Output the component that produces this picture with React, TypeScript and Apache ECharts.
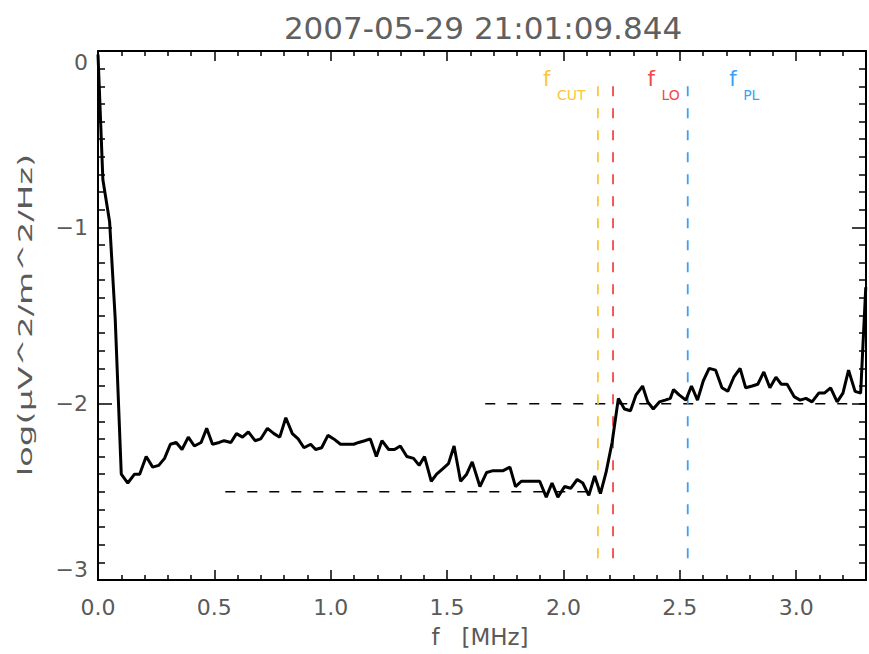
import React, { useEffect, useRef } from "react";
import * as echarts from "echarts";

// Spectrum sample frequencies [MHz]
const specFreq = [
  0.0, 0.021, 0.05, 0.074, 0.1, 0.128, 0.157, 0.179, 0.207, 0.235, 0.261, 0.286,
  0.311, 0.336, 0.361, 0.388, 0.414, 0.443, 0.467, 0.492, 0.521, 0.542, 0.571,
  0.595, 0.621, 0.646, 0.675, 0.699, 0.728, 0.756, 0.781, 0.807, 0.835, 0.86,
  0.885, 0.914, 0.935, 0.961, 0.988, 1.013, 1.042, 1.07, 1.099, 1.12, 1.146,
  1.17, 1.196, 1.22, 1.249, 1.274, 1.299, 1.327, 1.356, 1.38, 1.403, 1.432,
  1.455, 1.481, 1.506, 1.53, 1.558, 1.584, 1.608, 1.641, 1.67, 1.698, 1.72,
  1.741, 1.77, 1.794, 1.819, 1.848, 1.877, 1.898, 1.926, 1.951, 1.976, 2.005,
  2.031, 2.059, 2.083, 2.109, 2.134, 2.159, 2.183, 2.209, 2.236, 2.262, 2.288,
  2.312, 2.34, 2.362, 2.386, 2.412, 2.437, 2.459, 2.473, 2.497, 2.526, 2.55,
  2.576, 2.601, 2.626, 2.654, 2.681, 2.706, 2.732, 2.759, 2.783, 2.811, 2.835,
  2.861, 2.887, 2.913, 2.936, 2.961, 2.991, 3.017, 3.042, 3.068, 3.097, 3.121,
  3.148, 3.176, 3.201, 3.225, 3.253, 3.277, 3.299,
];

// Spectral density, log(µV^2/m^2/Hz)
const specLog = [
  -0.02, -0.73, -0.97, -1.52, -2.4, -2.45, -2.4, -2.4, -2.3, -2.36, -2.35, -2.31,
  -2.23, -2.22, -2.26, -2.19, -2.24, -2.22, -2.14, -2.23, -2.22, -2.21, -2.22,
  -2.17, -2.19, -2.16, -2.21, -2.2, -2.14, -2.17, -2.19, -2.08, -2.17, -2.2,
  -2.25, -2.23, -2.26, -2.25, -2.18, -2.2, -2.23, -2.23, -2.23, -2.22, -2.21,
  -2.2, -2.3, -2.21, -2.26, -2.26, -2.24, -2.3, -2.31, -2.35, -2.3, -2.44,
  -2.4, -2.37, -2.34, -2.24, -2.44, -2.4, -2.33, -2.47, -2.39, -2.38, -2.38,
  -2.38, -2.36, -2.47, -2.44, -2.44, -2.44, -2.44, -2.53, -2.45, -2.53, -2.47,
  -2.48, -2.43, -2.45, -2.52, -2.41, -2.51, -2.39, -2.22, -1.97, -2.03, -2.04,
  -1.95, -1.9, -1.99, -2.03, -1.99, -1.98, -1.97, -1.92, -1.95, -1.98, -1.9,
  -1.98, -1.87, -1.8, -1.81, -1.91, -1.93, -1.85, -1.8, -1.91, -1.9, -1.89,
  -1.82, -1.91, -1.85, -1.89, -1.89, -1.96, -1.98, -1.97, -1.99, -1.94, -1.94,
  -1.91, -1.99, -1.94, -1.81, -1.93, -1.94, -1.34,
];

// Characteristic frequencies [MHz]
const markerNames = ["CUT", "LO", "PL"];
const markerFreq = [2.148, 2.213, 2.534];
const markerColors = ["#fbc63c", "#f24848", "#3e9ff2"];
const markerLabelFreq = [1.912, 2.361, 2.712];
const markerRange = [-0.2, -2.9];

// Reference levels drawn as dashed lines
const levelValues = [-2.5, -2.0];
const levelStart = [0.547, 1.664];
const levelEnd = [2.155, 3.3];

const titleText = "2007-05-29 21:01:09.844";
const xName = "f   [MHz]";
const yName = "log(\u03bcV^2/m^2/Hz)";

const FONT = "DejaVu Sans";
const GREY = "#5a5a5a";

export default function App() {
  const ref = useRef<HTMLDivElement | null>(null);

  useEffect(() => {
    if (!ref.current) return;
    const chart = echarts.init(ref.current, undefined, { renderer: "svg" });

    const xFmt = (v: number) =>
      Math.abs(v * 2 - Math.round(v * 2)) < 1e-6 ? v.toFixed(1) : "";
    const yFmt = (v: number) => (v === 0 ? "0" : "\u2212" + Math.abs(v));

    const xCommon = {
      type: "value",
      min: 0,
      max: 3.3,
      interval: 0.5,
      axisLine: { onZero: false, lineStyle: { color: "#000", width: 2 } },
      axisTick: { inside: true, length: 10, lineStyle: { color: "#000", width: 1.5 } },
      minorTick: { show: true, splitNumber: 5, length: 5, lineStyle: { color: "#000", width: 1.5 } },
      splitLine: { show: false },
    };
    const yCommon = {
      type: "value",
      min: -3,
      max: 0,
      interval: 1,
      axisLine: { onZero: false, lineStyle: { color: "#000", width: 2 } },
      axisTick: { inside: true, length: 14, lineStyle: { color: "#000", width: 1.5 } },
      minorTick: { show: true, splitNumber: 10, length: 7, lineStyle: { color: "#000", width: 1.5 } },
      splitLine: { show: false },
    };

    const series: any[] = [];
    levelValues.forEach((lv, i) => {
      series.push({
        type: "line",
        data: [
          [levelStart[i], lv],
          [levelEnd[i], lv],
        ],
        symbol: "none",
        silent: true,
        lineStyle: { color: "#000", width: 1.5, type: [10, 12] },
        z: 3,
      });
    });
    markerFreq.forEach((f, i) => {
      series.push({
        type: "line",
        data: [
          [f, markerRange[0]],
          [f, markerRange[1]],
        ],
        symbol: "none",
        silent: true,
        lineStyle: { color: markerColors[i], width: 1.8, type: [10, 12] },
        z: 3,
      });
    });
    series.push({
      type: "line",
      data: specFreq.map((f, i) => [f, specLog[i]]),
      symbol: "none",
      lineStyle: { color: "#000", width: 3 },
      z: 5,
    });

    chart.setOption({
      animation: false,
      backgroundColor: "#fff",
      grid: { left: 98, top: 51, width: 770, height: 529, containLabel: false },
      xAxis: [
        {
          ...xCommon,
          position: "bottom",
          axisLabel: {
            formatter: xFmt,
            color: GREY,
            fontFamily: FONT,
            fontSize: 22,
            margin: 16,
          },
        },
        { ...xCommon, position: "top", axisLabel: { show: false } },
      ],
      yAxis: [
        {
          ...yCommon,
          position: "left",
          axisLabel: {
            formatter: yFmt,
            color: GREY,
            fontFamily: FONT,
            fontSize: 22,
            margin: 10,
            verticalAlignMinLabel: "bottom",
            verticalAlignMaxLabel: "top",
          },
        },
        { ...yCommon, position: "right", axisLabel: { show: false } },
      ],
      series,
    });

    // Texts: title, axis names and marker labels
    const px = (f: number, v: number) =>
      chart.convertToPixel({ xAxisIndex: 0, yAxisIndex: 0 }, [f, v]) as number[];
    const graphics: any[] = [
      {
        type: "text",
        x: 483,
        y: 28,
        style: {
          text: titleText,
          fill: "#606060",
          font: `31px "${FONT}"`,
          align: "center",
          verticalAlign: "middle",
        },
      },
      {
        type: "text",
        x: 480,
        y: 637,
        style: {
          text: xName,
          fill: GREY,
          font: `23px "${FONT}"`,
          align: "center",
          verticalAlign: "middle",
        },
      },
      {
        type: "text",
        x: 25,
        y: 315,
        rotation: Math.PI / 2,
        scaleX: 1.7,
        style: {
          text: yName,
          fill: GREY,
          font: `20px "${FONT}"`,
          align: "center",
          verticalAlign: "middle",
        },
      },
    ];
    markerNames.forEach((name, i) => {
      const p = px(markerLabelFreq[i], 0);
      graphics.push({
        type: "text",
        x: p[0],
        y: 79,
        style: {
          text: "f",
          fill: markerColors[i],
          font: `21px "${FONT}"`,
          align: "left",
          verticalAlign: "middle",
        },
      });
      graphics.push({
        type: "text",
        x: p[0] + 14,
        y: 95,
        style: {
          text: name,
          fill: markerColors[i],
          font: `14px "${FONT}"`,
          align: "left",
          verticalAlign: "middle",
        },
      });
    });
    chart.setOption({ graphic: graphics });

    return () => chart.dispose();
  }, []);

  return (
    <div
      ref={ref}
      style={{ position: "absolute", left: 0, top: 0, width: 869, height: 654, background: "#fff" }}
    />
  );
}
